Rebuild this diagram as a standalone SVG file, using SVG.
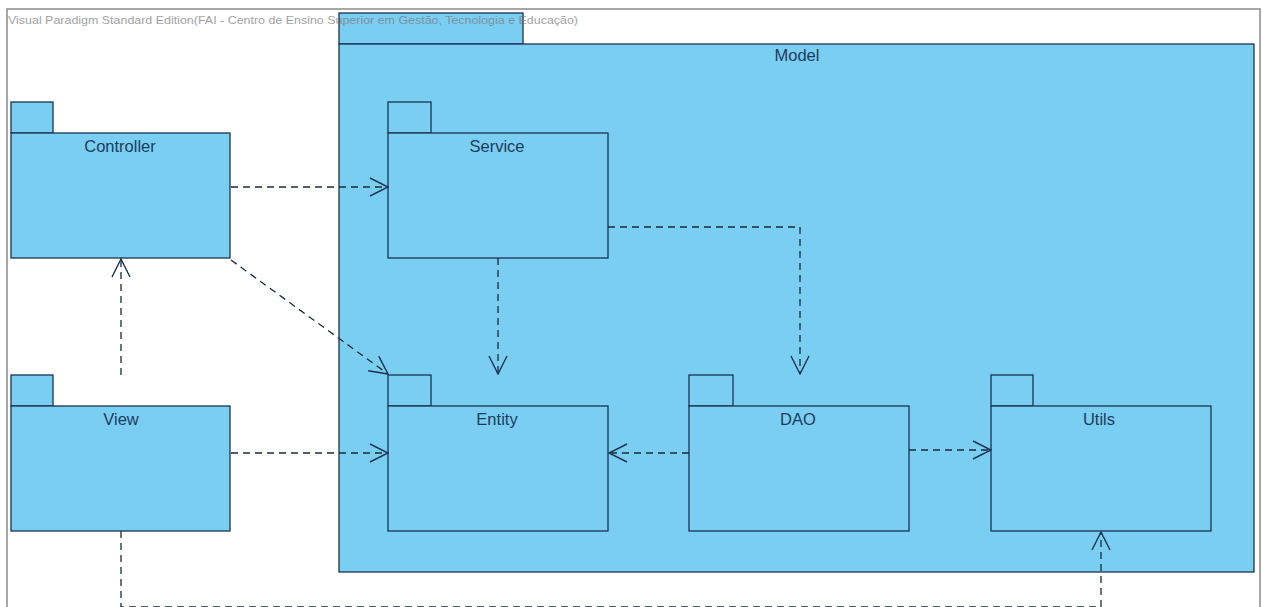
<svg xmlns="http://www.w3.org/2000/svg" width="1262" height="607" viewBox="0 0 1262 607">
<style>
.pkg{fill:#7ACEF2;stroke:#1A3350;stroke-width:1.3}
.lbl{font-family:"Liberation Sans",Arial,sans-serif;font-size:16.5px;fill:#1C3C5C;text-anchor:middle}
.dep{fill:none;stroke:#1A2A3A;stroke-width:1.3;stroke-dasharray:7 5}
.frame{fill:none;stroke:#8A8A8A;stroke-width:1.5}
.title{font-family:"Liberation Sans",Arial,sans-serif;font-size:11px;fill:#7A7A7A;opacity:0.7}
</style>
<defs>
<marker id="arr" viewBox="0 0 20 20" refX="19" refY="10" markerWidth="20" markerHeight="20" markerUnits="userSpaceOnUse" orient="auto">
<path d="M1,1 L19,10 L1,19" fill="none" stroke="#1A3350" stroke-width="1.4" stroke-dasharray="none"/>
</marker>
</defs>
<rect width="1262" height="607" fill="#ffffff"/>
<path class="frame" d="M7,607 V9 H1260 V607"/>
<g id="model">
<rect class="pkg" x="339" y="13" width="184" height="31"/>
<rect class="pkg" x="339" y="44" width="915" height="528"/>
<text class="lbl" x="797" y="61">Model</text>
</g>
<text class="title" x="8" y="24" textLength="570" lengthAdjust="spacingAndGlyphs">Visual Paradigm Standard Edition(FAI - Centro de Ensino Superior em Gestão, Tecnologia e Educação)</text>
<g id="controller">
<rect class="pkg" x="11" y="102" width="42" height="31"/>
<rect class="pkg" x="11" y="133" width="219" height="125"/>
<text class="lbl" x="120" y="152">Controller</text>
</g>
<g id="view">
<rect class="pkg" x="11" y="375" width="42" height="31"/>
<rect class="pkg" x="11" y="406" width="219" height="125"/>
<text class="lbl" x="121" y="425">View</text>
</g>
<g id="service">
<rect class="pkg" x="388" y="102" width="43" height="31"/>
<rect class="pkg" x="388" y="133" width="220" height="125"/>
<text class="lbl" x="497" y="152">Service</text>
</g>
<g id="entity">
<rect class="pkg" x="388" y="375" width="43" height="31"/>
<rect class="pkg" x="388" y="406" width="220" height="125"/>
<text class="lbl" x="497" y="425">Entity</text>
</g>
<g id="dao">
<rect class="pkg" x="689" y="375" width="44" height="31"/>
<rect class="pkg" x="689" y="406" width="220" height="125"/>
<text class="lbl" x="798" y="425">DAO</text>
</g>
<g id="utils">
<rect class="pkg" x="991" y="375" width="42" height="31"/>
<rect class="pkg" x="991" y="406" width="220" height="125"/>
<text class="lbl" x="1099" y="425">Utils</text>
</g>
<g id="connectors">
<path class="dep" d="M231,187 H388" marker-end="url(#arr)"/>
<path class="dep" d="M231,260 L388,374" marker-end="url(#arr)"/>
<path class="dep" d="M121,375 V259" marker-end="url(#arr)"/>
<path class="dep" d="M231,453 H388" marker-end="url(#arr)"/>
<path class="dep" d="M498,258 V374" marker-end="url(#arr)"/>
<path class="dep" d="M608,227 H800 V374" marker-end="url(#arr)"/>
<path class="dep" d="M689,453 H609" marker-end="url(#arr)"/>
<path class="dep" d="M909,450 H991" marker-end="url(#arr)"/>
<path class="dep" d="M121,531 V607 H1101 V532" marker-end="url(#arr)"/>
</g>
</svg>
